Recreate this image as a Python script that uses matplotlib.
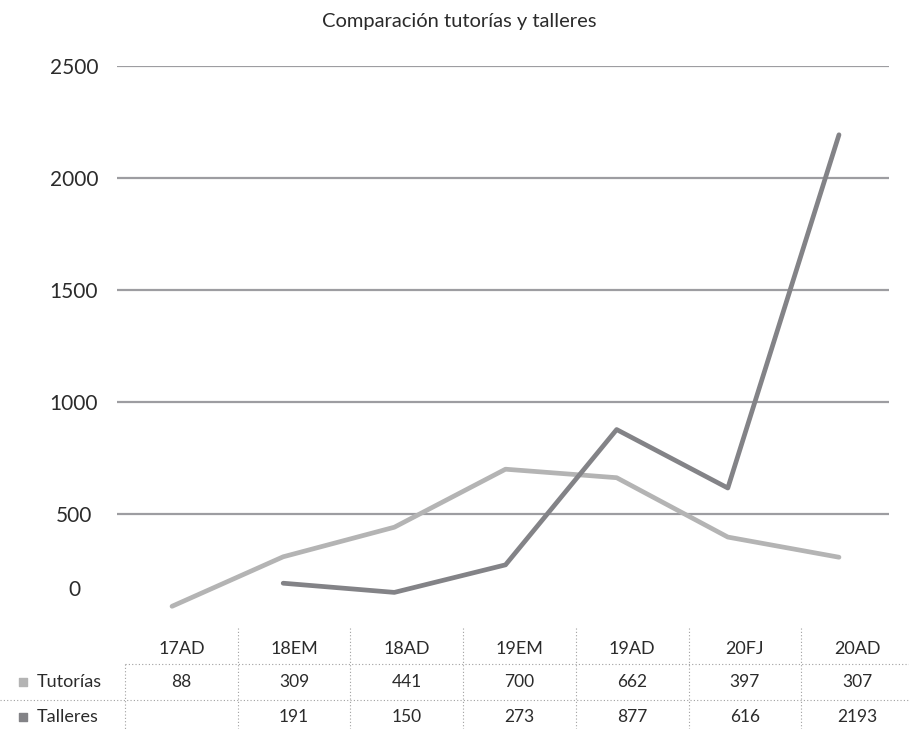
import numpy as np
import matplotlib.pyplot as plt

plt.rcParams['font.family'] = ['Lato', 'DejaVu Sans']

periods = ['17AD', '18EM', '18AD', '19EM', '19AD', '20FJ', '20AD']
tutorias = [88, 309, 441, 700, 662, 397, 307]
talleres = [None, 191, 150, 273, 877, 616, 2193]
y_ticks = [500, 1000, 1500, 2000, 2500]

c_tut = '#b4b4b4'
c_tal = '#838387'
c_grid = '#9d9da1'
c_text = '#2b2b2b'

W, H = 909, 729
fig = plt.figure(figsize=(W / 100, H / 100), dpi=100)

# main line chart
ax = fig.add_axes([117 / W, (H - 626) / H, (889 - 117) / W, 560 / H])
x = np.arange(len(periods))
tal = np.array([np.nan if v is None else v for v in talleres], dtype=float)
ax.plot(x, tutorias, color=c_tut, lw=3.4, solid_capstyle='round',
        solid_joinstyle='round', zorder=3)
ax.plot(x, tal, color=c_tal, lw=3.4, solid_capstyle='round',
        solid_joinstyle='round', zorder=4)
ax.set_xlim(-0.495, 6.45)
ax.set_ylim(0, 2500)
ax.set_xticks([])
ax.set_yticks(y_ticks)
ax.set_yticklabels([str(v) for v in y_ticks], fontsize=15, color=c_text,
                   ha='center')
ax.tick_params(axis='y', length=0, pad=31)
for v in y_ticks:
    ax.axhline(v, color=c_grid, lw=1.6, zorder=1)
for s in ax.spines.values():
    s.set_visible(False)
fig.text(74 / W, (H - 590) / H, '0', fontsize=15, color=c_text,
         ha='center', va='center')

fig.text(459 / W, (H - 22) / H, 'Comparación tutorías y talleres',
         fontsize=14.5, color=c_text, ha='center', va='center')

# data table below the chart
tab = fig.add_axes([0, 0, 1, 1])
tab.set_xlim(0, W)
tab.set_ylim(H, 0)
tab.axis('off')
col_left, col_w = 125, 112.7
row_y = [649, 682, 717]
dot = dict(color='#a0a0a0', lw=0.8, linestyle=(0, (1, 2)))
tab.plot([col_left, W], [664, 664], **dot)
tab.plot([0, W], [700, 700], **dot)
tab.plot([col_left, col_left], [664, H], **dot)
for i in range(1, len(periods)):
    xv = col_left + i * col_w
    tab.plot([xv, xv], [628, H], **dot)

for i, p in enumerate(periods):
    cx = col_left + (i + 0.5) * col_w
    tab.text(cx, row_y[0], p, fontsize=13, color=c_text, ha='center', va='center')
    tab.text(cx, row_y[1], str(tutorias[i]), fontsize=12.5, color=c_text,
             ha='center', va='center')
    if talleres[i] is not None:
        tab.text(cx, row_y[2], str(talleres[i]), fontsize=12.5, color=c_text,
                 ha='center', va='center')

for name, color, yv in [('Tutorías', c_tut, row_y[1]), ('Talleres', c_tal, row_y[2])]:
    tab.scatter([23], [yv], marker='s', s=38, color=color)
    tab.text(37, yv, name, fontsize=13, color=c_text, ha='left', va='center')

fig.savefig('out.png', dpi=100)
